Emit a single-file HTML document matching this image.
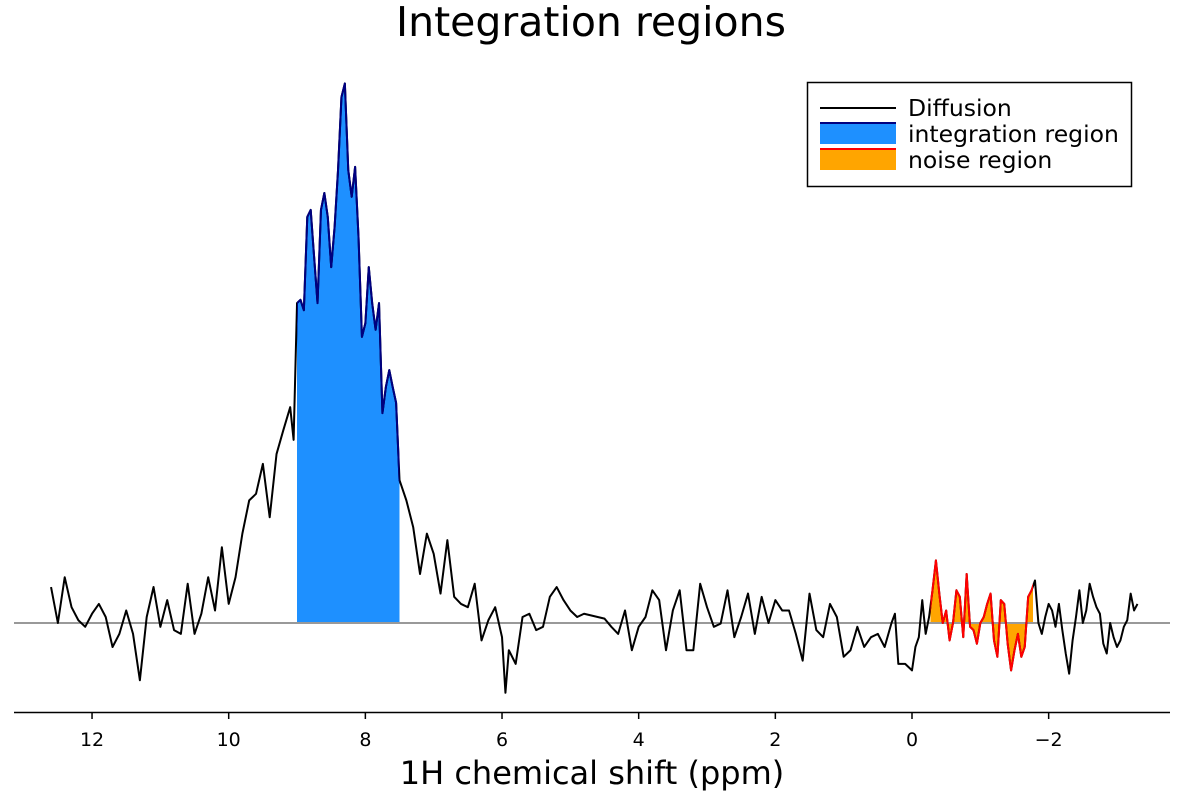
<!DOCTYPE html>
<html><head><meta charset="utf-8"><style>
html,body{margin:0;padding:0;background:#fff;}
svg{display:block;font-family:"DejaVu Sans","Liberation Sans",sans-serif;}
</style></head><body>
<svg id="chart" width="1184" height="800" viewBox="0 0 1184 800" xmlns="http://www.w3.org/2000/svg">
<rect width="1184" height="800" fill="#fff"/>
<text x="591" y="36" font-size="41" text-anchor="middle" fill="#000">Integration regions</text>
<g id="plot"></g>
<g id="xaxis"></g>
<text x="592" y="784" font-size="32" text-anchor="middle" fill="#000">1H chemical shift (ppm)</text>
<g>
<rect x="807.5" y="82.5" width="324" height="104" fill="#fff" stroke="#000" stroke-width="1.5"/>
<g>
<line x1="820" y1="108" x2="896" y2="108" stroke="#000" stroke-width="2"/>
<text x="908" y="116" font-size="23.5">Diffusion</text></g>
<g>
<rect x="820" y="122" width="76" height="22" fill="#1e90ff"/>
<line x1="820" y1="123" x2="896" y2="123" stroke="#000080" stroke-width="2"/>
<text x="908" y="142" font-size="23.5">integration region</text></g>
<g>
<rect x="820" y="148" width="76" height="22" fill="#ffa500"/>
<line x1="820" y1="149" x2="896" y2="149" stroke="#ff0000" stroke-width="2"/>
<text x="908" y="168" font-size="23.5">noise region</text></g>
</g>
</svg>
<script>
const ppm = [12.6,12.5,12.4,12.3,12.2,12.1,12.0,11.9,11.8,11.7,11.6,11.5,11.4,11.3,11.2,11.1,11.0,10.9,10.8,10.7,10.6,10.5,10.4,10.3,10.2,10.1,10.0,9.9,9.8,9.7,9.6,9.5,9.4,9.3,9.2,9.1,9.05,9.0,
8.95,8.9,8.85,8.8,8.75,8.7,8.65,8.6,8.55,8.5,8.45,8.4,8.35,8.3,8.25,8.2,8.15,8.1,8.05,8.0,7.95,7.9,7.85,7.8,7.75,7.7,7.65,7.6,7.55,7.5,
7.4,7.3,7.2,7.1,7.0,6.9,6.8,6.7,6.6,6.5,6.4,6.3,6.2,6.1,6.0,5.95,5.9,5.8,5.7,5.6,5.5,5.4,5.3,5.2,5.1,5.0,4.9,4.8,4.7,4.6,4.5,4.4,4.3,4.2,4.1,4.0,3.9,3.8,3.7,3.6,3.5,3.4,3.3,3.2,3.1,3.0,2.9,2.8,2.7,2.6,2.5,2.4,2.3,2.2,2.1,2.0,1.9,1.8,1.7,1.6,1.5,1.4,1.3,1.2,1.1,
1.0,0.9,0.8,0.7,0.6,0.5,0.4,0.3,0.25,0.2,0.1,0.0,-0.05,-0.1,-0.15,-0.2,-0.25,-0.3,-0.35,-0.4,-0.45,-0.5,-0.55,-0.6,-0.65,-0.7,-0.75,-0.8,-0.85,-0.9,-0.95,-1.0,-1.05,-1.1,-1.15,-1.2,-1.25,-1.3,-1.35,-1.4,-1.45,-1.5,-1.55,-1.6,-1.65,-1.7,-1.75,-1.8,-1.85,-1.9,-1.95,-2.0,-2.05,-2.1,-2.15,-2.2,-2.25,-2.3,-2.35,-2.4,-2.45,-2.5,-2.55,-2.6,-2.65,-2.7,-2.75,-2.8,-2.85,-2.9,-2.95,-3.0,-3.05,-3.1,-3.15,-3.2,-3.25,-3.3];
const intensity = [6.6,0,8.4,2.9,0.5,-0.7,1.7,3.5,1.1,-4.4,-2,2.3,-2,-10.5,1.1,6.6,-0.7,4.2,-1.3,-2,7.2,-2,1.7,8.4,2.3,13.9,3.5,8.4,16.4,22.5,23.7,29.2,19.4,31,35.4,39.6,33.6,58.7,
59.3,57.4,74.5,75.8,67.2,58.7,75.8,78.9,74.5,65.3,72.7,83.1,96.5,99,83.1,78.2,83.7,70.8,52.5,55,65.3,58.7,53.8,58.7,38.5,43.3,46.4,43.3,40.4,26.2,
22.5,17.6,9,16.4,12.7,5.4,15.2,4.8,3.5,2.9,7.2,-3.2,0.5,2.9,-2.6,-12.8,-5,-7.5,1.1,1.7,-1.3,-0.7,4.8,6.6,4.2,2.3,1.1,1.7,1.4,1.1,0.8,-0.7,-2,2.3,-5,-0.7,1.1,6,4.2,-5,2.3,6,-5,-5,7.2,2.9,-0.7,-0.1,6,-2.6,1.1,5.4,-2,4.8,0,4.2,2.3,2.3,-2,-6.9,5.4,-1.3,-2.6,3.5,1.1,
-6.2,-5,-0.7,-4.4,-2.6,-2,-4.4,0,1.7,-7.5,-7.5,-8.7,-4.4,-2.6,4.2,-2,1.1,6,11.5,5.4,0,2.3,-3.2,0,6,4.8,-2.6,9,-0.7,-1.3,-3.8,0,1.1,3.5,5.4,-3.2,-6.2,4.2,3.5,-3.8,-8.7,-5,-2,-6.2,-4.4,4.8,6,7.8,0,-2,1.1,3.5,2.3,-0.7,3.5,-1.3,-5.6,-9.3,-3.2,1.1,6,0,2.3,7.2,4.8,2.9,1.7,-3.8,-5.6,0,-2.6,-4.4,-3.2,-0.7,0.5,5.4,2.3,3.5];
const xTicks = [12,10,8,6,4,2,0,-2];
const xTickLabels = ["12","10","8","6","4","2","0","\u22122"];
const integrationRange = [9.0, 7.5];
const noiseRange = [-0.27, -1.77];

const NS = "http://www.w3.org/2000/svg";
const xs = p => 912 - p * 68.33;
const ys = v => 623 - v * 5.45;
const svg = document.getElementById('chart');
const plot = document.getElementById('plot');
const xaxis = document.getElementById('xaxis');
function mk(tag, attrs, parent){ const e=document.createElementNS(NS,tag); for(const k in attrs) e.setAttribute(k,attrs[k]); parent.appendChild(e); return e; }

const pts = ppm.map((p,i)=>xs(p).toFixed(2)+','+ys(intensity[i]).toFixed(2));
const linePts = pts.join(' ');
const fillPts = xs(ppm[0])+','+ys(0)+' '+linePts+' '+xs(ppm[ppm.length-1])+','+ys(0);

const defs = mk('defs',{},svg);
function clip(id, r){ const c=mk('clipPath',{id:id},defs); mk('rect',{x:xs(r[0]),y:0,width:xs(r[1])-xs(r[0]),height:800},c); }
clip('clipInt', integrationRange);
clip('clipNoise', noiseRange);

const fi = mk('polygon',{points:fillPts,fill:'#1e90ff','clip-path':'url(#clipInt)'},plot);


const fn = mk('polygon',{points:fillPts,fill:'#ffa500','clip-path':'url(#clipNoise)'},plot);



const base = mk('line',{x1:14,x2:1170,y1:ys(0),y2:ys(0),stroke:'#999',"stroke-width":2},plot);



const ln = mk('polyline',{points:linePts,fill:'none',stroke:'#000',"stroke-width":2,"stroke-linejoin":"round"},plot);


const li = mk('polyline',{points:linePts,fill:'none',stroke:'#000080',"stroke-width":2,"stroke-linejoin":"round",'clip-path':'url(#clipInt)'},plot);


const lnz = mk('polyline',{points:linePts,fill:'none',stroke:'#ff0000',"stroke-width":2,"stroke-linejoin":"round",'clip-path':'url(#clipNoise)'},plot);



const ax = mk('line',{x1:14,x2:1170,y1:712.5,y2:712.5,stroke:'#000',"stroke-width":1.5},xaxis);


xTicks.forEach((t,i)=>{
  const tk = mk('line',{x1:xs(t),x2:xs(t),y1:712,y2:719,stroke:'#000',"stroke-width":1.5},xaxis);
  
  
  const tl = mk('text',{x:xs(t),y:746,"font-size":19,"text-anchor":"middle",fill:'#000'},xaxis);
  tl.textContent = xTickLabels[i];
  
  
});
</script>
</body></html>
